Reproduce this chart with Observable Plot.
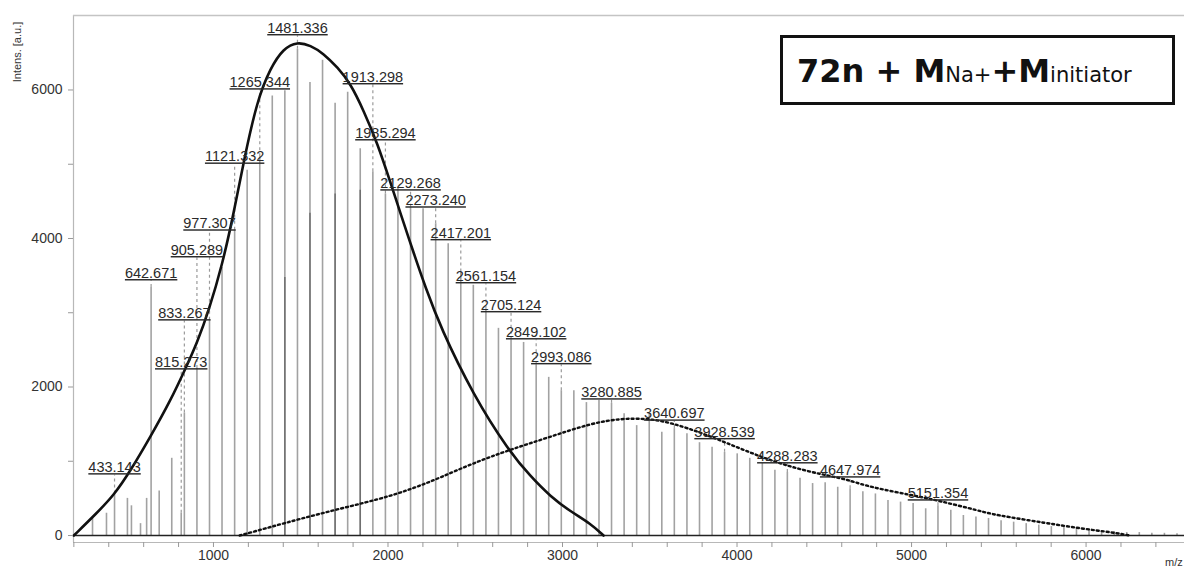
<!DOCTYPE html>
<html><head><meta charset="utf-8">
<script src="https://cdn.jsdelivr.net/npm/d3@7"></script>
<script src="https://cdn.jsdelivr.net/npm/@observablehq/plot@0.6"></script>
<style>
body{margin:0;background:#fff;}
#chart svg{display:block;}
</style></head><body><div id="chart"></div>
<script>
// axis settings
const xDomain = [198, 6564];
const yDomain = [-94, 7003];
const xTicks = [1000, 2000, 3000, 4000, 5000, 6000];
const xMinorTicks = [200,400,600,800,1200,1400,1600,1800,2200,2400,2600,2800,3200,3400,3600,3800,4200,4400,4600,4800,5200,5400,5600,5800,6200,6400];
const yTicks = [0, 2000, 4000, 6000];
const yMinorTicks = [1000, 3000, 5000];

// spectrum peaks (m/z, intensity)
const peakMz = [307, 387, 433.143, 507, 530, 582, 617, 642.671, 689, 761,
  815.273, 833.267, 905.289, 977.307, 1049, 1121.332, 1193, 1265.344, 1337, 1409,
  1481.336, 1553, 1625, 1697, 1769, 1841, 1913.298, 1985.294, 2057, 2129.268,
  2201, 2273.240, 2345, 2417.201, 2489, 2561.154, 2633, 2705.124, 2777, 2849.102,
  2921, 2993.086, 3065, 3137, 3209, 3280.885, 3353, 3425, 3497, 3569,
  3640.697, 3713, 3785, 3857, 3928.539, 4001, 4073, 4145, 4217, 4288.283,
  4361, 4433, 4505, 4577, 4647.974, 4721, 4793, 4865, 4937, 5009,
  5081, 5151.354, 5225, 5297, 5369, 5441, 5513, 5585, 5657, 5729,
  5801, 5873, 5945, 6017, 6089, 6161, 6233, 6305, 6377, 6449, 6521];
const peakH = [230, 300, 560, 500, 400, 160, 500, 3340, 600, 1040,
  300, 1650, 2250, 2900, 3610, 4110, 4920, 5100, 5920, 5990,
  6550, 6100, 6400, 5820, 5970, 5210, 4900, 4600, 4690, 4420,
  4400, 4200, 3930, 3550, 3370, 3050, 2790, 2630, 2600, 2300,
  2130, 1950, 1950, 1790, 1820, 1780, 1640, 1480, 1640, 1390,
  1440, 1370, 1250, 1190, 1120, 1100, 1040, 970, 880, 850,
  770, 700, 710, 650, 630, 590, 560, 470, 450, 430,
  360, 400, 340, 270, 250, 230, 200, 180, 160, 140,
  120, 110, 90, 80, 60, 50, 40, 40, 30, 30, 25];

// darker overlaid spectrum peaks
const darkMz = [1409, 1553, 1697, 1841];
const darkH = [3475, 4340, 4600, 4650];

// fitted envelopes
const solidMz = [200, 330, 429, 524, 639, 754, 840, 907, 973, 1050, 1117, 1174, 1250, 1327, 1401, 1481, 1556, 1630, 1711, 1785, 1860, 1940, 2014, 2072, 2146, 2215, 2301, 2490, 2691, 2817, 2931, 3046, 3160, 3235];
const solidV  = [0, 300, 540, 870, 1330, 1818, 2250, 2600, 3030, 3640, 4350, 5050, 5859, 6300, 6560, 6650, 6600, 6493, 6304, 6088, 5725, 5280, 4755, 4337, 3812, 3341, 2802, 1886, 1145, 795, 525, 323, 162, 0];
const dottedMz = [1150, 1212, 1596, 1974, 2150, 2301, 2473, 2691, 2931, 3160, 3332, 3487, 3619, 3808, 4003, 4192, 4381, 4576, 4649, 4765, 5011, 5153, 5395, 5470, 5779, 5968, 6158, 6250];
const dottedV  = [0, 40, 290, 500, 640, 781, 960, 1150, 1330, 1509, 1576, 1576, 1522, 1374, 1185, 1010, 876, 780, 740, 650, 540, 470, 330, 280, 165, 95, 40, 0];

// peak labels
const labelText = ["433.143","642.671","815.273","833.267","905.289","977.307","1121.332","1265.344","1481.336","1913.298","1985.294","2129.268","2273.240","2417.201","2561.154","2705.124","2849.102","2993.086","3280.885","3640.697","3928.539","4288.283","4647.974","5151.354"];
const labelY = [916, 3530, 2330, 2990, 3840, 4200, 5100, 6100, 6830, 6170, 5415, 4740, 4510, 4070, 3490, 3100, 2735, 2400, 1925, 1640, 1390, 1065, 875, 565];

const peaks = peakMz.map((mz, i) => ({mz, h: peakH[i]}));
const dark = darkMz.map((mz, i) => ({mz, h: darkH[i]}));
const solid = solidMz.map((mz, i) => ({mz, v: solidV[i]}));
const dotted = dottedMz.map((mz, i) => ({mz, v: dottedV[i]}));
const labels = labelText.map((t, i) => {
  const mz = +t;
  const p = d3.least(peaks, d => Math.abs(d.mz - mz));
  return {t, mz, y: labelY[i], top: labelY[i] - 100, h: p.h};
});
const connectors = labels.filter(d => d.top > d.h + 40);
const fmt = d3.format("d");

const svg = Plot.plot({
  width: 1184, height: 567,
  marginLeft: 73, marginRight: 0, marginTop: 15, marginBottom: 25,
  x: {domain: xDomain},
  y: {domain: yDomain},
  style: {fontFamily: "'Liberation Sans', Arial, sans-serif", fontSize: "14px", color: "#333", background: "white"},
  marks: [
    Plot.ruleX(peaks, {x: "mz", y1: 0, y2: "h", stroke: "#a2a2a2", strokeWidth: 1.6}),
    Plot.ruleX(dark, {x: "mz", y1: 0, y2: "h", stroke: "#6c6c6c", strokeWidth: 1.4}),
    Plot.ruleX(connectors, {x: "mz", y1: "h", y2: "top", stroke: "#9a9a9a", strokeWidth: 1.2, strokeDasharray: "3,3"}),
    Plot.ruleY([0], {stroke: "#222", strokeWidth: 1.6}),
    Plot.ruleX([xDomain[0]], {stroke: "#b8b8b8", strokeWidth: 1.2}),
    Plot.ruleY([yDomain[0]], {stroke: "#b8b8b8", strokeWidth: 1.2}),
    Plot.ruleY([yDomain[1]], {stroke: "#c4c4c4", strokeWidth: 1.5}),
    Plot.line(dotted, {x: "mz", y: "v", curve: "basis", stroke: "#111", strokeWidth: 2.4, strokeDasharray: "2,3"}),
    Plot.line(solid, {x: "mz", y: "v", curve: "basis", stroke: "#111", strokeWidth: 2.6}),
    Plot.text(labels, {x: "mz", y: "y", text: "t", fontSize: 14.5, fill: "#2a2a2a"}),
    Plot.axisY(yTicks, {tickSize: 5, tickPadding: 6, label: null, stroke: "#999", fill: "#333", fontSize: 14, tickFormat: fmt}),
    Plot.axisY(yMinorTicks, {tickSize: 5, tickFormat: () => "", label: null, stroke: "#999"}),
    Plot.axisX(xTicks, {tickSize: 5, tickPadding: 3, label: null, stroke: "#999", fill: "#333", fontSize: 14, tickFormat: fmt}),
    Plot.axisX(xMinorTicks, {tickSize: 5, tickFormat: () => "", label: null, stroke: "#999"})
  ]
});
document.getElementById("chart").appendChild(svg);

const s = d3.select(svg);
// underline peak labels
const labelSet = new Set(labelText);
s.selectAll("text").filter(function() { return labelSet.has(this.textContent); })
  .style("text-decoration", "underline").style("text-decoration-color", "#8c8c8c");

// axis titles
s.append("text").attr("transform", "translate(18,52) rotate(-90)")
  .attr("text-anchor", "middle").attr("dominant-baseline", "middle")
  .attr("font-size", 11).attr("fill", "#333").text("Intens. [a.u.]");
s.append("text").attr("x", 1165).attr("y", 566)
  .attr("text-anchor", "start").attr("font-size", 11).attr("fill", "#333").text("m/z");

// formula box
s.append("rect").attr("x", 781.5).attr("y", 36.5).attr("width", 392).attr("height", 67)
  .attr("fill", "white").attr("stroke", "#111").attr("stroke-width", 3);
const t = s.append("text").attr("x", 797).attr("y", 82).attr("fill", "#111")
  .attr("text-anchor", "start")
  .style("font-family", "'DejaVu Sans', Verdana, sans-serif");
t.append("tspan").attr("font-size", 32).attr("font-weight", "bold").text("72n + M");
t.append("tspan").attr("font-size", 21).text("Na+");
t.append("tspan").attr("font-size", 32).attr("font-weight", "bold").text("+M");
t.append("tspan").attr("font-size", 21).text("initiator");
</script></body></html>
